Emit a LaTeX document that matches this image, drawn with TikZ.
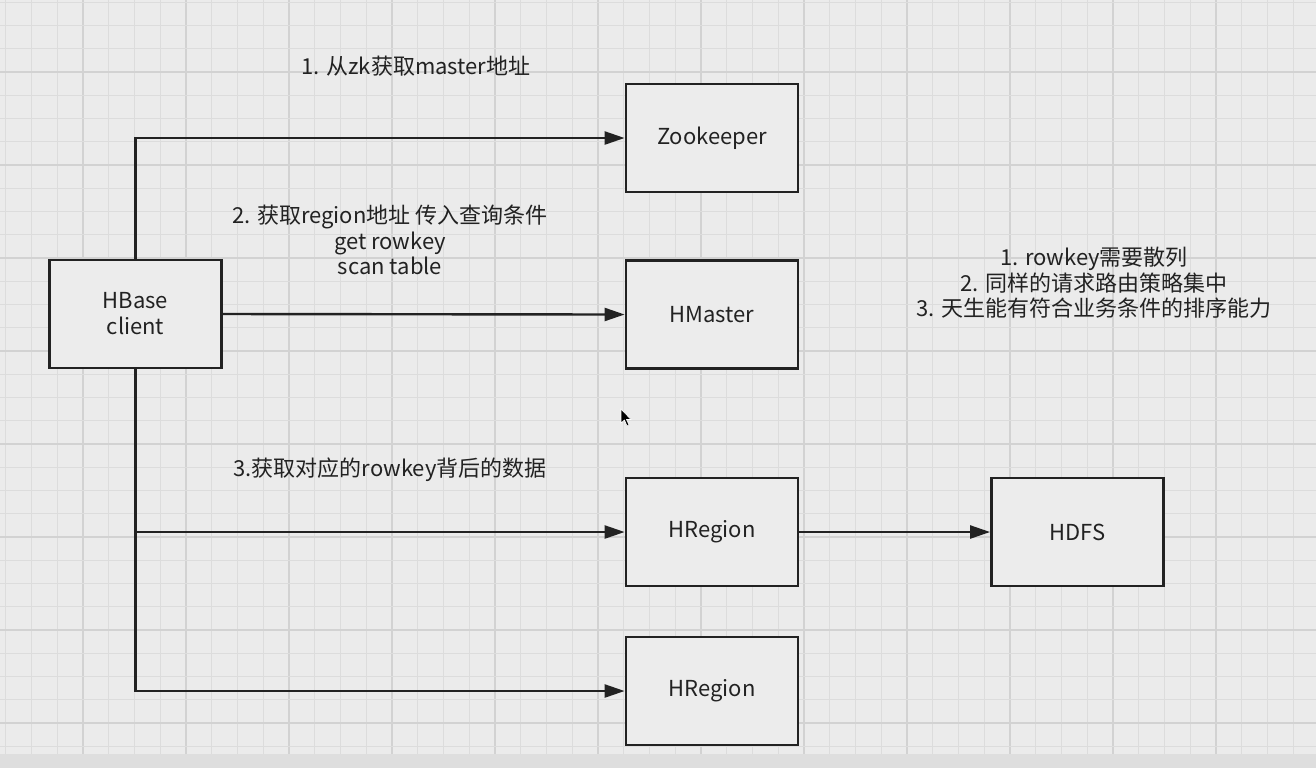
\documentclass[tikz,border=0pt]{standalone}
\usepackage{fontspec}
\setmainfont{Noto Sans CJK SC}
\usetikzlibrary{arrows.meta}
\definecolor{bg}{HTML}{EBEBEB}
\definecolor{gridminor}{HTML}{DCDCDC}
\definecolor{gridmajor}{HTML}{D2D2D2}
\definecolor{band}{HTML}{DEDEDE}
\definecolor{ink}{HTML}{222222}
\definecolor{boxfill}{HTML}{ECECEC}
\tikzset{
  box/.style={draw=ink, line width=1.4pt, fill=boxfill, minimum width=86pt, minimum height=54pt,
    inner sep=0pt, align=center, text=ink, font=\fontsize{11}{13}\selectfont},
  conn/.style={draw=ink, line width=1.2pt, -{Triangle[length=10pt,width=6.5pt]}},
  plain/.style={draw=ink, line width=1.2pt},
  lbl/.style={align=center, text=ink, font=\fontsize{11}{12.75}\selectfont, inner sep=0pt}
}
\begin{document}
\begin{tikzpicture}[x=0.5pt,y=-0.5pt]
\useasboundingbox (0,0) rectangle (1316,768);
\fill[bg] (0,0) rectangle (1316,768);
% grid
\foreach \i in {0,...,51} {
  \pgfmathsetmacro{\xx}{5.75+25.75*\i}
  \pgfmathtruncatemacro{\m}{mod(\i,4)}
  \ifnum\m=3 \draw[gridmajor, line width=0.9pt] (\xx,0) -- (\xx,754);
  \else \draw[gridminor, line width=0.6pt] (\xx,0) -- (\xx,754); \fi
}
\foreach \j in {0,...,32} {
  \pgfmathsetmacro{\yy}{2.25+23.25*\j}
  \pgfmathtruncatemacro{\m}{mod(\j,4)}
  \ifnum\m=3 \draw[gridmajor, line width=0.9pt] (0,\yy) -- (1316,\yy);
  \else \draw[gridminor, line width=0.6pt] (0,\yy) -- (1316,\yy); \fi
}
\fill[band] (0,754) rectangle (1316,768);

% boxes
\node[box] (client) at (135.5,314) {HBase\\client};
\node[box] (zk) at (712,138) {Zookeeper};
\node[box] (hm) at (712,314.5) {HMaster};
\node[box] (hr1) at (712,532) {HRegion};
\node[box] (hdfs) at (1077.5,532) {HDFS};
\node[box] (hr2) at (712,691) {HRegion};

% connectors
\draw[conn] (client.north) |- (zk.west);
\draw[conn] (client.east) -- (hm.west);
\coordinate (br) at (client.south |- hr1.west);
\draw[conn] (client.south) |- (hr2.west);
\draw[conn] (br) -- (hr1.west);
\draw[conn] (hr1.east) -- (hdfs.west);

% labels
\node[lbl] (l1) at (416,66) {1. 从zk获取master地址};
\node[lbl] (l2) at (390,240) {2. 获取region地址 传入查询条件\\get rowkey\\scan table};
\node[lbl] (l3) at (390,470) {3.获取对应的rowkey背后的数据};
\node[lbl] (note) at (1094,283) {1. rowkey需要散列\\2. 同样的请求路由策略集中\\3. 天生能有符合业务条件的排序能力};

% mouse cursor
\fill[black, draw=white, line width=0.3pt] (621,409) -- (621,423) -- (624.5,420) -- (627,426) -- (629,425) -- (626.5,419.5) -- (631,419.5) -- cycle;
\end{tikzpicture}
\end{document}
